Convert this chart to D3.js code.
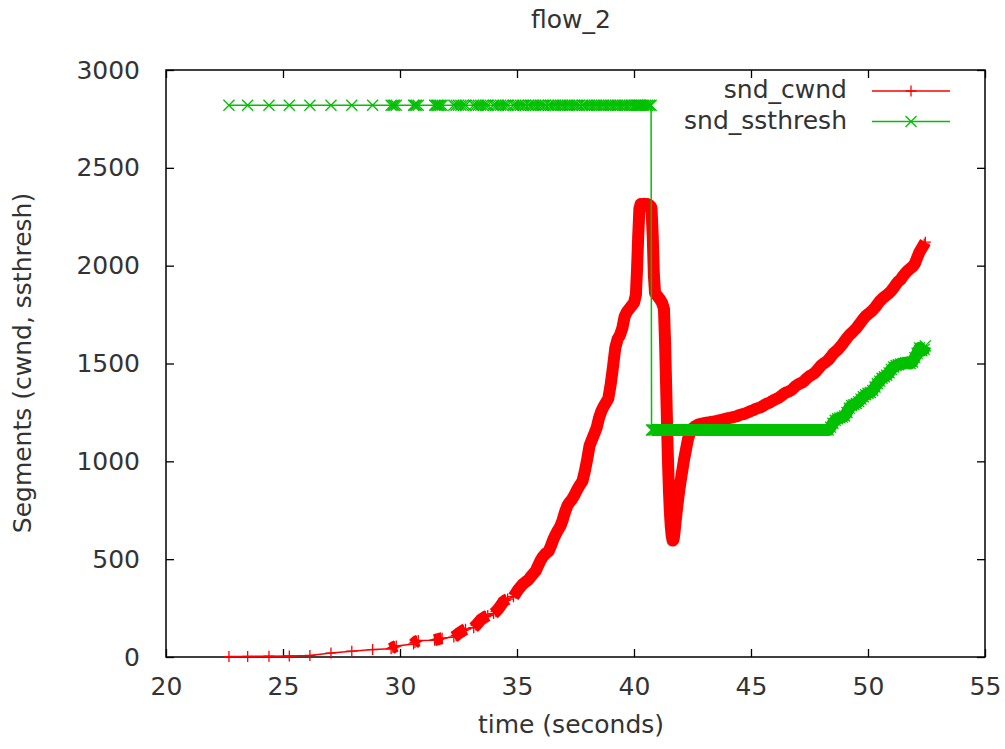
<!DOCTYPE html>
<html>
<head>
<meta charset="utf-8">
<script src="https://cdn.jsdelivr.net/npm/d3@7"></script>
<style>
  body { margin: 0; background: #fff; }
  text { font-family: "DejaVu Sans", sans-serif; fill: #333; }
</style>
</head>
<body>
<div id="graphic"></div>
<script>
// chart values (time in seconds, segments)
var title = "flow_2";
var xLabel = "time (seconds)";
var yLabel = "Segments (cwnd, ssthresh)";
var seriesNames = ["snd_cwnd", "snd_ssthresh"];
var xTicks = [20, 25, 30, 35, 40, 45, 50, 55];
var yTicks = [0, 500, 1000, 1500, 2000, 2500, 3000];

var times = [
  22.69, 23.49, 24.40, 25.27, 26.15, 27.05, 27.94, 28.83, 29.62, 29.70,
  29.76, 29.84, 30.58, 30.64, 30.70, 30.78, 31.48, 31.54, 31.60, 31.66,
  31.72, 31.80, 32.30, 32.40, 32.50, 32.60, 32.70, 32.80, 33.15, 33.25,
  33.35, 33.45, 33.55, 33.65, 33.75, 34.00, 34.10, 34.20, 34.30, 34.40,
  34.50, 34.60, 34.85, 34.95, 35.05, 35.15, 35.25, 35.35, 35.50, 35.60,
  35.70, 35.80, 35.90, 36.00, 36.10, 36.20, 36.35, 36.45, 36.55, 36.65,
  36.75, 36.85, 36.95, 37.05, 37.15, 37.25, 37.35, 37.45, 37.55, 37.65,
  37.80, 37.90, 38.00, 38.10, 38.20, 38.30, 38.40, 38.50, 38.60, 38.70,
  38.80, 38.90, 39.00, 39.10, 39.20, 39.30, 39.40, 39.50, 39.60, 39.70,
  39.80, 39.90, 40.00, 40.08, 40.13, 40.18, 40.23, 40.28, 40.35, 40.42,
  40.50, 40.58, 40.66, 40.73, 40.75, 40.80, 40.85, 40.90, 41.00, 41.10,
  41.20, 41.28, 41.33, 41.37, 41.41, 41.45, 41.49, 41.53, 41.57, 41.61,
  41.65, 41.69, 41.73, 41.78, 41.84, 41.91, 41.98, 42.06, 42.14, 42.22,
  42.30, 42.40, 42.50, 42.60, 42.70, 42.80, 42.90, 43.00, 43.10, 43.20,
  43.30, 43.40, 43.50, 43.60, 43.70, 43.80, 43.90, 44.00, 44.10, 44.20,
  44.30, 44.40, 44.50, 44.60, 44.70, 44.80, 44.90, 45.00, 45.10, 45.20,
  45.30, 45.40, 45.50, 45.60, 45.70, 45.80, 45.90, 46.00, 46.10, 46.20,
  46.30, 46.40, 46.50, 46.60, 46.70, 46.80, 46.90, 47.00, 47.10, 47.20,
  47.30, 47.40, 47.50, 47.60, 47.70, 47.80, 47.90, 48.00, 48.10, 48.20,
  48.30, 48.40, 48.50, 48.60, 48.70, 48.80, 48.90, 49.00, 49.10, 49.20,
  49.30, 49.40, 49.50, 49.60, 49.70, 49.80, 49.90, 50.00, 50.10, 50.20,
  50.30, 50.40, 50.50, 50.60, 50.70, 50.80, 50.90, 51.00, 51.10, 51.20,
  51.30, 51.40, 51.50, 51.60, 51.70, 51.80, 51.90, 52.00, 52.10, 52.20,
  52.30, 52.40, 52.45
];

var cwnd = [
  2, 3, 4, 5, 8, 20, 30, 38, 42, 48,
  52, 56, 66, 74, 80, 84, 86, 88, 90, 92,
  94, 96, 102, 110, 120, 128, 136, 142, 150, 162,
  176, 190, 198, 206, 212, 222, 232, 246, 262, 280,
  290, 296, 308, 326, 344, 358, 372, 382, 396, 412,
  426, 440, 466, 492, 512, 526, 540, 568, 600, 626,
  648, 668, 700, 740, 772, 792, 806, 826, 850, 872,
  900, 950, 1010, 1080, 1110, 1140, 1170, 1220, 1255, 1280,
  1300, 1320, 1390, 1480, 1580, 1625, 1645, 1680, 1740, 1765,
  1780, 1795, 1810, 1850, 1980, 2150, 2290, 2315, 2310, 2315,
  2305, 2315, 2310, 2300, 2290, 2150, 1950, 1860, 1845, 1830,
  1810, 1780, 1600, 1400, 1200, 1010, 860, 750, 670, 620,
  595, 600, 635, 695, 760, 830, 890, 950, 1010, 1060,
  1110, 1150, 1168, 1178, 1185, 1190, 1192, 1195, 1197, 1199,
  1201, 1203, 1205, 1208, 1211, 1214, 1217, 1220, 1222, 1225,
  1228, 1231, 1236, 1240, 1242, 1247, 1252, 1258, 1262, 1268,
  1272, 1276, 1282, 1290, 1296, 1300, 1308, 1315, 1320, 1326,
  1335, 1345, 1352, 1356, 1362, 1372, 1384, 1392, 1398, 1404,
  1414, 1426, 1436, 1442, 1450, 1462, 1476, 1490, 1500, 1508,
  1518, 1532, 1548, 1560, 1570, 1584, 1598, 1614, 1630, 1645,
  1656, 1668, 1680, 1696, 1712, 1728, 1742, 1752, 1762, 1773,
  1786, 1802, 1818, 1830, 1840, 1850, 1860, 1872, 1888, 1905,
  1920, 1930, 1948, 1962, 1975, 1985, 1995, 2010, 2040, 2070,
  2090, 2110, 2120
];

var ssthresh = [
  2820, 2820, 2820, 2820, 2820, 2820, 2820, 2820, 2820, 2820,
  2820, 2820, 2820, 2820, 2820, 2820, 2820, 2820, 2820, 2820,
  2820, 2820, 2820, 2820, 2820, 2820, 2820, 2820, 2820, 2820,
  2820, 2820, 2820, 2820, 2820, 2820, 2820, 2820, 2820, 2820,
  2820, 2820, 2820, 2820, 2820, 2820, 2820, 2820, 2820, 2820,
  2820, 2820, 2820, 2820, 2820, 2820, 2820, 2820, 2820, 2820,
  2820, 2820, 2820, 2820, 2820, 2820, 2820, 2820, 2820, 2820,
  2820, 2820, 2820, 2820, 2820, 2820, 2820, 2820, 2820, 2820,
  2820, 2820, 2820, 2820, 2820, 2820, 2820, 2820, 2820, 2820,
  2820, 2820, 2820, 2820, 2820, 2820, 2820, 2820, 2820, 2820,
  2820, 2820, 2820, 2820, 1160, 1160, 1160, 1160, 1160, 1160,
  1160, 1160, 1160, 1160, 1160, 1160, 1160, 1160, 1160, 1160,
  1160, 1160, 1160, 1160, 1160, 1160, 1160, 1160, 1160, 1160,
  1160, 1160, 1160, 1160, 1160, 1160, 1160, 1160, 1160, 1160,
  1160, 1160, 1160, 1160, 1160, 1160, 1160, 1160, 1160, 1160,
  1160, 1160, 1160, 1160, 1160, 1160, 1160, 1160, 1160, 1160,
  1160, 1160, 1160, 1160, 1160, 1160, 1160, 1160, 1160, 1160,
  1160, 1160, 1160, 1160, 1160, 1160, 1160, 1160, 1160, 1160,
  1160, 1160, 1160, 1160, 1160, 1160, 1160, 1160, 1160, 1160,
  1160, 1175, 1195, 1210, 1218, 1222, 1226, 1232, 1250, 1272,
  1285, 1290, 1296, 1305, 1318, 1330, 1340, 1348, 1352, 1362,
  1380, 1398, 1410, 1425, 1432, 1440, 1452, 1470, 1482, 1490,
  1494, 1498, 1500, 1504, 1505, 1500, 1508, 1530, 1552, 1580,
  1565, 1572, 1590
];

// time spans where samples are so dense that the markers merge into a band
var cwndDense = [[29.6, 29.9], [30.55, 30.8], [31.45, 31.85], [32.25, 32.85],
                 [33.1, 33.8], [33.95, 34.65], [34.8, 52.5]];
var ssthreshDense = [[40.75, 52.5]];

var width = 1005;
var height = 749;
var plotLeft = 166, plotRight = 985, plotTop = 70, plotBottom = 657;
var tickLen = 8;
var markSize = 5.5;
var bandWidth = 12;
var colors = ["#ff0000", "#00c000"];
var fontSize = 25;

var svg = d3.select("#graphic")
  .append("svg")
  .attr("width", width)
  .attr("height", height)
  .style("background", "#fff");

var xScale = d3.scaleLinear().domain([20, 55]).range([plotLeft, plotRight]);
var yScale = d3.scaleLinear().domain([0, 3000]).range([plotBottom, plotTop]);

function styleAxis(g) {
  g.select(".domain").remove();
  g.selectAll(".tick line").attr("stroke", "#000").attr("stroke-width", 1.3);
  g.selectAll("text").style("font-size", fontSize + "px").attr("fill", "#333");
}

// bottom + left axes with labels, inward ticks
svg.append("g")
  .attr("transform", "translate(0," + plotBottom + ")")
  .call(d3.axisBottom(xScale).tickValues(xTicks).tickFormat(d3.format("d"))
    .tickSizeInner(-tickLen).tickSizeOuter(0).tickPadding(20))
  .call(styleAxis);

svg.append("g")
  .attr("transform", "translate(" + plotLeft + ",0)")
  .call(d3.axisLeft(yScale).tickValues(yTicks).tickFormat(d3.format("d"))
    .tickSizeInner(-tickLen).tickSizeOuter(0).tickPadding(26))
  .call(styleAxis);

// mirrored ticks on top and right
svg.append("g")
  .attr("transform", "translate(0," + plotTop + ")")
  .call(d3.axisTop(xScale).tickValues(xTicks).tickSizeInner(-tickLen).tickSizeOuter(0).tickFormat(""))
  .call(styleAxis);

svg.append("g")
  .attr("transform", "translate(" + plotRight + ",0)")
  .call(d3.axisRight(yScale).tickValues(yTicks).tickSizeInner(-tickLen).tickSizeOuter(0).tickFormat(""))
  .call(styleAxis);

svg.append("rect")
  .attr("x", plotLeft)
  .attr("y", plotTop)
  .attr("width", plotRight - plotLeft)
  .attr("height", plotBottom - plotTop)
  .attr("fill", "none")
  .attr("stroke", "#000")
  .attr("stroke-width", 1.5);

// titles
svg.append("text")
  .attr("x", 571).attr("y", 28)
  .attr("text-anchor", "middle")
  .style("font-size", fontSize + "px")
  .text(title);

svg.append("text")
  .attr("x", 571).attr("y", 733)
  .attr("text-anchor", "middle")
  .style("font-size", fontSize + "px")
  .text(xLabel);

svg.append("text")
  .attr("transform", "translate(31,363) rotate(-90)")
  .attr("text-anchor", "middle")
  .style("font-size", fontSize + "px")
  .text(yLabel);

// series
var plusPath = "M" + (-markSize) + ",0H" + markSize + "M0," + (-markSize) + "V" + markSize;
var crossPath = "M" + (-markSize) + "," + (-markSize) + "L" + markSize + "," + markSize +
  "M" + (-markSize) + "," + markSize + "L" + markSize + "," + (-markSize);
var markers = [plusPath, crossPath];
var denseSpans = [cwndDense, ssthreshDense];

var series = [cwnd, ssthresh].map(function(values) {
  return times.map(function(t, i) { return { t: t, v: values[i] }; });
});

var line = d3.line()
  .x(function(d) { return xScale(d.t); })
  .y(function(d) { return yScale(d.v); });

series.forEach(function(data, k) {
  var g = svg.append("g");

  denseSpans[k].forEach(function(span) {
    var part = data.filter(function(d) { return d.t >= span[0] && d.t <= span[1]; });
    g.append("path")
      .datum(part)
      .attr("d", line)
      .attr("fill", "none")
      .attr("stroke", colors[k])
      .attr("stroke-width", bandWidth)
      .attr("stroke-linejoin", "round");
  });

  g.append("path")
    .datum(data)
    .attr("d", line)
    .attr("fill", "none")
    .attr("stroke", colors[k])
    .attr("stroke-width", 1.5);

  g.selectAll("path.mark")
    .data(data)
    .enter().append("path")
    .attr("class", "mark")
    .attr("transform", function(d) { return "translate(" + xScale(d.t) + "," + yScale(d.v) + ")"; })
    .attr("d", markers[k])
    .attr("fill", "none")
    .attr("stroke", colors[k])
    .attr("stroke-width", 1.3);
});

// legend
var legend = svg.append("g");
seriesNames.forEach(function(name, k) {
  var yLine = 91 + k * 30.5;
  legend.append("text")
    .attr("x", 847).attr("y", yLine + 7)
    .attr("text-anchor", "end")
    .style("font-size", fontSize + "px")
    .text(name);
  legend.append("line")
    .attr("x1", 872).attr("x2", 950)
    .attr("y1", yLine).attr("y2", yLine)
    .attr("stroke", colors[k])
    .attr("stroke-width", 1.5);
  legend.append("path")
    .attr("transform", "translate(911," + yLine + ")")
    .attr("d", markers[k])
    .attr("fill", "none")
    .attr("stroke", colors[k])
    .attr("stroke-width", 1.3);
});
</script>
</body>
</html>
